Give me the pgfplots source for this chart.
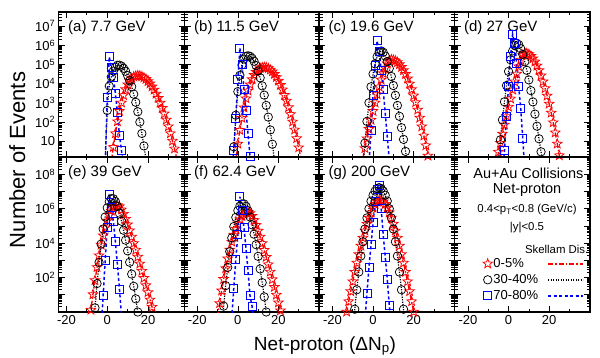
\documentclass[border=0pt]{standalone}
\usepackage{pgfplots}
\pgfplotsset{compat=1.18}
\usepackage{pgfplotstable}
\usepackage{fontspec}
\setmainfont{Liberation Sans}
\usetikzlibrary{plotmarks}

\pgfdeclareplotmark{pentastar}{%
  \pgfpathmoveto{\pgfpointpolar{90}{\pgfplotmarksize}}%
  \pgfpathlineto{\pgfpointpolar{126}{0.42\pgfplotmarksize}}%
  \pgfpathlineto{\pgfpointpolar{162}{\pgfplotmarksize}}%
  \pgfpathlineto{\pgfpointpolar{198}{0.42\pgfplotmarksize}}%
  \pgfpathlineto{\pgfpointpolar{234}{\pgfplotmarksize}}%
  \pgfpathlineto{\pgfpointpolar{270}{0.42\pgfplotmarksize}}%
  \pgfpathlineto{\pgfpointpolar{306}{\pgfplotmarksize}}%
  \pgfpathlineto{\pgfpointpolar{342}{0.42\pgfplotmarksize}}%
  \pgfpathlineto{\pgfpointpolar{18}{\pgfplotmarksize}}%
  \pgfpathlineto{\pgfpointpolar{54}{0.42\pgfplotmarksize}}%
  \pgfpathclose
  \pgfusepathqstroke
}

% ---------------- data ----------------
\pgfplotstableread{
x y
2 0.72
3 4.8
4 25
5 105
6 363
7 1.0e3
8 2.45e3
9 5.0e3
10 8.9e3
11 1.35e4
12 1.86e4
13 2.29e4
14 2.51e4
15 2.63e4
16 2.57e4
17 2.34e4
18 2.04e4
19 1.70e4
20 1.32e4
21 1.0e4
22 6.9e3
23 4.7e3
24 2.9e3
25 1.74e3
26 977
27 525
28 269
29 129
30 57.5
31 25
32 10.2
33 4.0
34 1.45
35 0.5
}\aS
\pgfplotstableread{
x y
-1 0.8
0 398
1 7.4e3
2 2.24e4
3 4.47e4
4 7.1e4
5 9.0e4
6 9.1e4
7 8.1e4
8 6.3e4
9 4.4e4
10 2.6e4
11 1.41e4
12 6.8e3
13 2.8e3
14 1.05e3
15 339
16 98
17 25
18 5.6
19 1.12
20 0.2
}\aC
\pgfplotstableread{
x y
-1 0.5
0 2.0e3
1 2.5e5
2 7.1e4
3 2.0e4
4 3.16e3
5 316
6 20
7 3.16
8 0.32
}\aQ
\pgfplotstableread{
x y
-2 0.13
-1 1.07
0 7.1
1 37
2 158
3 562
4 1.66e3
5 4.2e3
6 8.9e3
7 1.66e4
8 2.75e4
9 3.98e4
10 5.2e4
11 6.3e4
12 6.9e4
13 7.1e4
14 6.9e4
15 6.2e4
16 5.2e4
17 4.2e4
18 3.1e4
19 2.14e4
20 1.38e4
21 8.3e3
22 4.8e3
23 2.5e3
24 1.26e3
25 575
26 251
27 102
28 39
29 13.8
30 4.6
31 1.41
32 0.42
}\bS
\pgfplotstableread{
x y
-3 0.035
-2 5.0
-1 224
0 3.8e3
1 2.7e4
2 9.3e4
3 1.9e5
4 2.63e5
5 2.8e5
6 2.63e5
7 2.1e5
8 1.45e5
9 8.7e4
10 4.5e4
11 2.0e4
12 7.6e3
13 2.5e3
14 724
15 178
16 38
17 6.9
18 1.1
19 0.16
}\bC
\pgfplotstableread{
x y
-3 0.1
-2 3.16
-1 158
0 1.58e4
1 7.1e5
2 1.0e5
3 5.0e3
4 398
5 25
6 1.58
7 0.1
}\bQ
\pgfplotstableread{
x y
-6 0.38
-5 1.26
-4 4.2
-3 13.5
-2 42
-1 126
0 363
1 1.0e3
2 2.7e3
3 6.8e3
4 1.58e4
5 3.4e4
6 6.5e4
7 1.1e5
8 1.55e5
9 1.78e5
10 1.7e5
11 1.55e5
12 1.29e5
13 1.0e5
14 7.2e4
15 4.9e4
16 3.1e4
17 1.82e4
18 9.8e3
19 5.0e3
20 2.34e3
21 1.05e3
22 427
23 162
24 57.5
25 19
26 5.9
27 1.7
28 0.45
}\cS
\pgfplotstableread{
x y
-5 0.42
-4 7.9
-3 107
-2 1.0e3
-1 6.8e3
0 3.16e4
1 1.07e5
2 2.5e5
3 4.3e5
4 5.0e5
5 4.3e5
6 2.7e5
7 1.41e5
8 6.2e4
9 2.34e4
10 7.9e3
11 2.45e3
12 724
13 195
14 50
15 12.3
16 2.9
17 0.66
}\cC
\pgfplotstableread{
x y
-2 0.5
-1 37
0 2.5e3
1 9.3e4
2 1.7e6
3 4.7e5
4 5.1e4
5 4.7e3
6 282
7 17
8 1.0
9 0.05
}\cQ
\pgfplotstableread{
x y
-7 0.29
-6 0.89
-5 2.7
-4 7.9
-3 24
-2 71
-1 204
0 603
1 1.62e3
2 4.7e3
3 1.26e4
4 3.2e4
5 7.8e4
6 1.7e5
7 3.1e5
8 4.0e5
9 3.8e5
10 3.4e5
11 2.7e5
12 2.0e5
13 1.38e5
14 8.5e4
15 4.9e4
16 2.6e4
17 1.26e4
18 5.6e3
19 2.3e3
20 871
21 295
22 93
23 27.5
24 7.2
25 1.78
26 0.41
}\dS
\pgfplotstableread{
x y
-5 0.89
-4 11.7
-3 129
-2 1.12e3
-1 7.9e3
0 4.3e4
1 1.74e5
2 5.0e5
3 1.0e6
4 1.26e6
5 1.07e6
6 6.6e5
7 3.3e5
8 1.38e5
9 4.9e4
10 1.55e4
11 4.3e3
12 1.1e3
13 257
14 60
15 13.2
16 2.75
17 0.56
}\dC
\pgfplotstableread{
x y
-3 0.1
-2 3.16
-1 186
0 6.9e3
1 2.6e5
2 3.8e6
3 1.26e6
4 1.15e5
5 6.9e3
6 513
7 13.8
8 0.3
}\dQ
\pgfplotstableread{
x y
-9 0.14
-8 1.32
-7 10.5
-6 69
-5 398
-4 1.9e3
-3 7.9e3
-2 2.75e4
-1 7.9e4
0 2.0e5
1 4.2e5
2 7.6e5
3 1.15e6
4 1.45e6
5 1.58e6
6 1.35e6
7 8.7e5
8 4.9e5
9 2.5e5
10 1.2e5
11 5.4e4
12 2.3e4
13 9.8e3
14 4.0e3
15 1.58e3
16 631
17 240
18 93
19 35
20 13.8
21 5.1
22 1.95
23 0.72
}\eS
\pgfplotstableread{
x y
-7 0.05
-6 1.74
-5 45
-4 759
-3 8.7e3
-2 6.6e4
-1 3.3e5
0 1.12e6
1 2.5e6
2 3.8e6
3 3.8e6
4 2.6e6
5 1.35e6
6 5.5e5
7 1.86e5
8 5.6e4
9 1.48e4
10 3.55e3
11 776
12 158
13 31
14 5.8
15 1.0
16 0.17
}\eC
\pgfplotstableread{
x y
-3 0.1
-2 8.9
-1 1.0e3
0 7.9e4
1 7.1e6
2 1.26e6
3 1.8e5
4 1.26e4
5 575
6 21
7 0.63
}\eQ
\pgfplotstableread{
x y
-10 0.52
-9 3.2
-8 17.4
-7 81
-6 339
-5 1.26e3
-4 4.1e3
-3 1.17e4
-2 3.0e4
-1 6.8e4
0 1.35e5
1 2.34e5
2 3.6e5
3 4.9e5
4 5.9e5
5 6.3e5
6 5.4e5
7 3.7e5
8 2.14e5
9 1.1e5
10 5.1e4
11 2.3e4
12 9.8e3
13 3.9e3
14 1.55e3
15 575
16 214
17 78
18 28
19 9.8
20 3.5
21 1.2
22 0.41
}\fS
\pgfplotstableread{
x y
-8 0.1
-7 2.2
-6 34
-5 389
-4 3.2e3
-3 2.0e4
-2 9.1e4
-1 3.1e5
0 7.8e5
1 1.41e6
2 1.9e6
3 1.9e6
4 1.38e6
5 7.6e5
6 3.3e5
7 1.15e5
8 3.3e4
9 8.1e3
10 1.7e3
11 316
12 51
13 7.6
14 1.0
15 0.12
}\fC
\pgfplotstableread{
x y
-4 0.1
-3 0.5
-2 25
-1 1.1e3
0 3.2e4
1 5.0e6
2 7.9e5
3 8.3e4
4 5.1e3
5 251
6 8.9
7 2.24
8 0.1
}\fQ
\pgfplotstableread{
x y
-15 0.06
-14 0.25
-13 1.02
-12 4.1
-11 15.8
-10 59
-9 209
-8 708
-7 2.24e3
-6 6.9e3
-5 2.0e4
-4 5.2e4
-3 1.29e5
-2 2.95e5
-1 6.0e5
0 1.12e6
1 1.82e6
2 2.57e6
3 3.1e6
4 3.1e6
5 2.57e6
6 1.82e6
7 1.12e6
8 6.0e5
9 2.95e5
10 1.29e5
11 5.2e4
12 2.0e4
13 6.9e3
14 2.24e3
15 708
16 209
17 59
18 15.8
19 4.1
20 1.02
21 0.25
22 0.06
}\gS
\pgfplotstableread{
x y
-10 0.087
-9 1.45
-8 19.5
-7 209
-6 1.78e3
-5 1.2e4
-4 6.6e4
-3 2.9e5
-2 9.9e5
-1 2.75e6
0 6.0e6
1 1.05e7
2 1.48e7
3 1.66e7
4 1.48e7
5 1.05e7
6 6.0e6
7 2.75e6
8 9.9e5
9 2.9e5
10 6.6e4
11 1.2e4
12 1.78e3
13 209
14 19.5
15 1.45
16 0.087
}\gC
\pgfplotstableread{
x y
-4 0.32
-3 12.6
-2 398
-1 7.9e3
0 1.58e5
1 2.5e6
2 1.26e7
3 2.24e7
4 1.0e6
5 3.16e4
6 1.58e3
7 79
8 2.5
9 0.1
}\gQ

\pgfplotsset{
  mypanel/.style={
    scale only axis,
    axis line style={line width=1.2pt},
    tick align=inside,
    xtick={-20,0,20}, minor xtick={-10,10,30},
    xticklabels={,,},
    yticklabels={,,,,,,,,},
    major tick length=6pt, minor tick length=3.5pt,
    every tick/.style={black, line width=0.7pt},
    minor ytick={2,3,4,5,6,7,8,9,20,30,40,50,60,70,80,90,200,300,400,500,600,700,800,900,2e3,3e3,4e3,5e3,6e3,7e3,8e3,9e3,2e4,3e4,4e4,5e4,6e4,7e4,8e4,9e4,2e5,3e5,4e5,5e5,6e5,7e5,8e5,9e5,2e6,3e6,4e6,5e6,6e6,7e6,8e6,9e6,2e7,3e7,4e7,5e7,6e7,7e7,8e7,9e7,2e8,3e8,4e8,5e8,6e8,7e8,8e8,9e8},
    tick label style={font=\fontsize{13}{13}\selectfont},
  },
  mycolA/.style={width=126pt, xmin=-23.8, xmax=38.0},
  mycolB/.style={width=134.3pt, xmin=-26.2, xmax=40.0},
  mycolC/.style={width=135.5pt, xmin=-26.6, xmax=40.1},
  mytop/.style={mypanel, height=145pt, ymin=1.48, ymax=5.4e7,
    ytick={10,100,1e3,1e4,1e5,1e6,1e7}},
  mybot/.style={mypanel, height=155pt, ymin=1, ymax=1e9,
    ytick={10,100,1e3,1e4,1e5,1e6,1e7,1e8}},
  mytoplabels/.style={yticklabels={10,10\textsuperscript{2},10\textsuperscript{3},10\textsuperscript{4},10\textsuperscript{5},10\textsuperscript{6},10\textsuperscript{7}}},
  mybotlabels/.style={yticklabels={{},10\textsuperscript{2},{},10\textsuperscript{4},{},10\textsuperscript{6},{},10\textsuperscript{8}}},
  myxlabels/.style={xticklabels={-20,0,20}},
  starM/.style={only marks, mark=pentastar, red, mark size=5pt, mark options={line width=0.75pt}},
  circM/.style={only marks, mark=o, black, mark size=4.2pt, mark options={line width=0.75pt}},
  sqM/.style={only marks, mark=square, blue, mark size=4pt, mark options={line width=0.8pt}},
  starL/.style={no marks, red, line width=1.4pt, dash pattern=on 5pt off 2pt on 1.5pt off 2pt},
  circL/.style={no marks, black, line width=1.2pt, dash pattern=on 1.2pt off 1.3pt},
  sqL/.style={no marks, blue, line width=1.5pt, dash pattern=on 3pt off 2.5pt},
  legmark/.style={legend image code/.code={\draw[##1] plot coordinates {(0pt,0pt)};}},
  legline/.style={legend image code/.code={\draw[##1] (0pt,0pt) -- (35pt,0pt);}},
}
\tikzset{plab/.style={anchor=base west, xshift=6pt, yshift=-19.5pt, font=\fontsize{15}{15}\selectfont}}

\newcommand\panelplots[3]{%
  \addplot[starM] table {#1};
  \addplot[circM] table {#2};
  \addplot[sqM] table {#3};
  \addplot[starL] table {#1};
  \addplot[circL] table {#2};
  \addplot[sqL] table {#3};
}

\begin{document}
\begin{tikzpicture}
\useasboundingbox (0pt,0pt) rectangle (600pt,-358pt);

\begin{axis}[ymode=log, mytop, mycolA, mytoplabels, at={(58.7pt,-12pt)}, anchor=north west]
\panelplots{\aS}{\aC}{\aQ}
\node[plab] at (rel axis cs:0,1) {(a) 7.7 GeV};
\end{axis}
\begin{axis}[ymode=log, mytop, mycolB, at={(184.7pt,-12pt)}, anchor=north west]
\panelplots{\bS}{\bC}{\bQ}
\node[plab] at (rel axis cs:0,1) {(b) 11.5 GeV};
\end{axis}
\begin{axis}[ymode=log, mytop, mycolC, at={(319pt,-12pt)}, anchor=north west]
\panelplots{\cS}{\cC}{\cQ}
\node[plab] at (rel axis cs:0,1) {(c) 19.6 GeV};
\end{axis}
\begin{axis}[ymode=log, mytop, mycolC, at={(454.5pt,-12pt)}, anchor=north west]
\panelplots{\dS}{\dC}{\dQ}
\node[plab] at (rel axis cs:0,1) {(d) 27 GeV};
\end{axis}

\begin{axis}[ymode=log, mybot, mycolA, mybotlabels, myxlabels, at={(58.7pt,-157pt)}, anchor=north west]
\panelplots{\eS}{\eC}{\eQ}
\node[plab] at (rel axis cs:0,1) {(e) 39 GeV};
\end{axis}
\begin{axis}[ymode=log, mybot, mycolB, myxlabels, at={(184.7pt,-157pt)}, anchor=north west]
\panelplots{\fS}{\fC}{\fQ}
\node[plab] at (rel axis cs:0,1) {(f) 62.4 GeV};
\end{axis}
\begin{axis}[ymode=log, mybot, mycolC, myxlabels, at={(319pt,-157pt)}, anchor=north west]
\panelplots{\gS}{\gC}{\gQ}
\node[plab] at (rel axis cs:0,1) {(g) 200 GeV};
\end{axis}
\begin{axis}[ymode=log, mybot, mycolC, myxlabels, at={(454.5pt,-157pt)}, anchor=north west,
  legend columns=2,
  legend style={draw=none, fill=none, inner sep=0pt, outer sep=0pt,
    at={(0.21,0.352)}, anchor=north west, row sep=3.5pt,
    font=\fontsize{13}{13}\selectfont,
    nodes={inner sep=1pt},
    /tikz/every odd column/.style={column sep=0pt},
    /tikz/every even column/.style={column sep=8pt}},
  legend cell align=left]
\addlegendimage{starM, legmark}
\addlegendentry{0-5\%}
\addlegendimage{starL, line width=1.6pt, legline}
\addlegendentry{}
\addlegendimage{circM, legmark}
\addlegendentry{30-40\%}
\addlegendimage{circL, line width=1.4pt, legline}
\addlegendentry{}
\addlegendimage{sqM, legmark}
\addlegendentry{70-80\%}
\addlegendimage{sqL, legline}
\addlegendentry{}
\end{axis}

\node[font=\fontsize{14.5}{15}\selectfont] at (528.5pt,-173.5pt) {Au+Au Collisions};
\node[font=\fontsize{14.5}{15}\selectfont] at (527pt,-190pt) {Net-proton};
\node[font=\fontsize{11.4}{12}\selectfont] at (527pt,-209.5pt) {0.4<p\textsubscript{T}<0.8 (GeV/c)};
\node[font=\fontsize{11.4}{12}\selectfont] at (527pt,-227.5pt) {|y|<0.5};
\node[font=\fontsize{11.4}{12}\selectfont] at (556.7pt,-249pt) {Skellam Dis.};

\node[rotate=90, anchor=base, font=\fontsize{22}{22}\selectfont] at (25pt,-160pt) {Number of Events};
\node[anchor=base, font=\fontsize{19}{19}\selectfont] at (325pt,-350pt) {Net-proton (ΔN\textsubscript{p})};
\end{tikzpicture}
\end{document}
